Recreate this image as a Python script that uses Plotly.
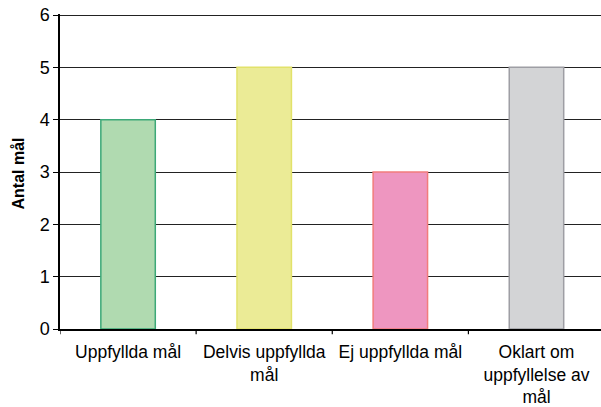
import plotly.graph_objects as go

categories = ["Uppfyllda mål", "Delvis uppfyllda<br>mål", "Ej uppfyllda mål", "Oklart om<br>uppfyllelse av<br>mål"]
values = [4, 5, 3, 5]
fill_colors = ["#B0DAB0", "#EBEB96", "#EE96C0", "#D3D4D6"]
line_colors = ["#3DA878", "#E2E26A", "#F27C7C", "#9E9EA4"]
y_ticks = [0, 1, 2, 3, 4, 5, 6]

fig = go.Figure(go.Bar(
    x=list(range(len(categories))),
    y=values,
    marker=dict(color=fill_colors, line=dict(color=line_colors, width=1.5)),
    width=0.40,
))

fig.update_layout(
    width=601, height=407,
    margin=dict(l=60, r=0, t=14, b=78),
    plot_bgcolor="white", paper_bgcolor="white",
    showlegend=False,
    font=dict(family="Liberation Sans, Arial", size=17.5, color="black"),
)
fig.update_xaxes(
    tickmode="array", tickvals=list(range(len(categories))), ticktext=categories,
    range=[-0.5, 3.474], automargin=False,
    showline=True, linecolor="black", linewidth=1.5,
    showgrid=False, zeroline=False,
    ticks="outside", ticklen=6, tickcolor="rgba(0,0,0,0)",
    tickfont=dict(size=17.5),
)
fig.update_yaxes(
    range=[0, 6.02], tickvals=y_ticks, automargin=False,
    showline=True, linecolor="black", linewidth=1.5,
    showgrid=True, gridcolor="#222222", gridwidth=1.2,
    zeroline=False, ticklabeloverflow="allow",
    ticks="outside", ticklen=5, tickcolor="black", tickwidth=1,
    tickfont=dict(size=18),
)

fig.add_annotation(text="<b>Antal mål</b>", xref="paper", yref="paper",
                   x=-42 / 541, y=0.5 - 2 / 315, xanchor="center", yanchor="middle",
                   textangle=-90, showarrow=False, font=dict(size=16))

# category boundary tick marks on x axis
for b in [-0.5, 0.5, 1.5, 2.5]:
    fig.add_shape(type="line", xref="x", yref="paper", x0=b, x1=b, y0=0, y1=-0.017,
                  line=dict(color="black", width=1.2))

fig.write_html("out.html", config={"displayModeBar": False},
               post_script="document.body.style.margin='0';document.body.style.overflow='hidden';")
